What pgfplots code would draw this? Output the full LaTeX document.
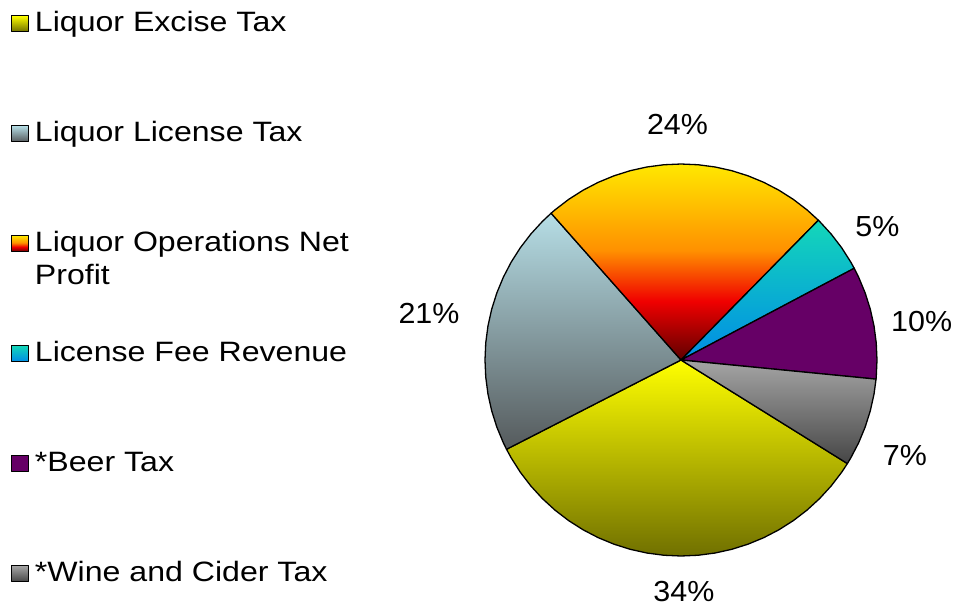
\documentclass[border=0pt]{standalone}
\usepackage{fontspec}
\setmainfont{Liberation Sans}[FakeStretch=1.146]
\newfontfamily\labelfont{Liberation Sans}[FakeStretch=1.05]
\usepackage{pgfplots}
\pgfplotsset{compat=1.18}
\usepgfplotslibrary{polar}

\definecolor{yTop}{RGB}{255,255,0}
\definecolor{yBot}{RGB}{112,112,0}
\definecolor{bTop}{RGB}{182,222,230}
\definecolor{bBot}{RGB}{85,90,92}
\definecolor{oTop}{RGB}{255,232,0}
\definecolor{oMid}{RGB}{255,145,0}
\definecolor{oRed}{RGB}{240,0,0}
\definecolor{oBot}{RGB}{95,0,0}
\definecolor{cTop}{RGB}{20,215,185}
\definecolor{cBot}{RGB}{0,140,230}
\definecolor{pur}{RGB}{102,0,102}
\definecolor{gTop}{RGB}{165,165,165}
\definecolor{gBot}{RGB}{70,70,70}

\pgfdeclareverticalshading{shY}{100bp}{color(0bp)=(yBot); color(25bp)=(yBot); color(75bp)=(yTop); color(100bp)=(yTop)}
\pgfdeclareverticalshading{shB}{100bp}{color(0bp)=(bBot); color(25bp)=(bBot); color(75bp)=(bTop); color(100bp)=(bTop)}
\pgfdeclareverticalshading{shO}{100bp}{color(0bp)=(oBot); color(25bp)=(oBot); color(40bp)=(oRed); color(53bp)=(oMid); color(75bp)=(oTop); color(100bp)=(oTop)}
\pgfdeclareverticalshading{shC}{100bp}{color(0bp)=(cBot); color(25bp)=(cBot); color(75bp)=(cTop); color(100bp)=(cTop)}
\pgfdeclareverticalshading{shP}{100bp}{color(0bp)=(pur); color(100bp)=(pur)}
\pgfdeclareverticalshading{shG}{100bp}{color(0bp)=(gBot); color(25bp)=(gBot); color(75bp)=(gTop); color(100bp)=(gTop)}

\begin{document}
\begin{tikzpicture}[x=1pt,y=1pt]
\useasboundingbox (0,0) rectangle (956,-609);
\begin{polaraxis}[
  at={(681pt,-360pt)}, anchor=center,
  width=392pt, height=392pt, scale only axis,
  xmin=0, xmax=360, ymin=0, ymax=1,
  hide axis, clip=false,
  every axis plot/.append style={draw=black, line width=1.3pt, line join=round},
  legend image code/.code={\draw[#1, line width=0.9pt] (0pt,-8pt) rectangle (17pt,8pt);},
  legend style={
    at={(axis description cs:-1.209,1.391)}, anchor=north west,
    draw=none, fill=none, inner sep=0pt, outer sep=0pt,
    row sep=84pt, column sep=6pt,
    font=\fontsize{28}{33}\selectfont,
    cells={anchor=west},
    nodes={inner sep=0pt, text height=21pt, text depth=5pt},
  },
  legend cell align=left,
]
% Liquor Excise Tax 33.6%
\addplot[shade, shading=shY] coordinates {(0,0) (-152.9,1) (-150,1) (-145,1) (-140,1) (-135,1) (-130,1) (-125,1) (-120,1) (-115,1) (-110,1) (-105,1) (-100,1) (-95,1) (-90,1) (-85,1) (-80,1) (-75,1) (-70,1) (-65,1) (-60,1) (-55,1) (-50,1) (-45,1) (-40,1) (-35,1) (-31.9,1)} -- cycle;
\addlegendentry{Liquor Excise Tax}
% Liquor License Tax 21.0%
\addplot[shade, shading=shB] coordinates {(0,0) (131.5,1) (135,1) (140,1) (145,1) (150,1) (155,1) (160,1) (165,1) (170,1) (175,1) (180,1) (185,1) (190,1) (195,1) (200,1) (205,1) (207.1,1)} -- cycle;
\addlegendentry{Liquor License Tax}
% Liquor Operations Net Profit 23.9%
\addplot[shade, shading=shO] coordinates {(0,0) (45.5,1) (50,1) (55,1) (60,1) (65,1) (70,1) (75,1) (80,1) (85,1) (90,1) (95,1) (100,1) (105,1) (110,1) (115,1) (120,1) (125,1) (130,1) (131.5,1)} -- cycle;
\addlegendentry{\begin{tabular}[t]{@{}l@{}}Liquor Operations Net\\Profit\end{tabular}}
% License Fee Revenue 4.9%
\addplot[shade, shading=shC] coordinates {(0,0) (27.9,1) (30,1) (35,1) (40,1) (45,1) (45.5,1)} -- cycle;
\addlegendentry{License Fee Revenue}
% Beer Tax 9.3%
\addplot[shade, shading=shP] coordinates {(0,0) (-5.6,1) (-5,1) (0,1) (5,1) (10,1) (15,1) (20,1) (25,1) (27.9,1)} -- cycle;
\addlegendentry{*Beer Tax}
% Wine and Cider Tax 7.3%
\addplot[shade, shading=shG] coordinates {(0,0) (-31.9,1) (-30,1) (-25,1) (-20,1) (-15,1) (-10,1) (-5.6,1)} -- cycle;
\addlegendentry{*Wine and Cider Tax}

\begin{scope}[every node/.style={anchor=base, inner sep=0pt, font=\labelfont\fontsize{29}{34}\selectfont}]
\node at (axis cs:90.89,1.1517) {24\%};
\node at (axis cs:32.11,1.1836) {5\%};
\node at (axis cs:6.71,1.2365) {10\%};
\node at (axis cs:-25.12,1.262) {7\%};
\node at (axis cs:-89.3,1.232) {34\%};
\node at (axis cs:171.71,1.2993) {21\%};
\end{scope}
\end{polaraxis}
\end{tikzpicture}
\end{document}
